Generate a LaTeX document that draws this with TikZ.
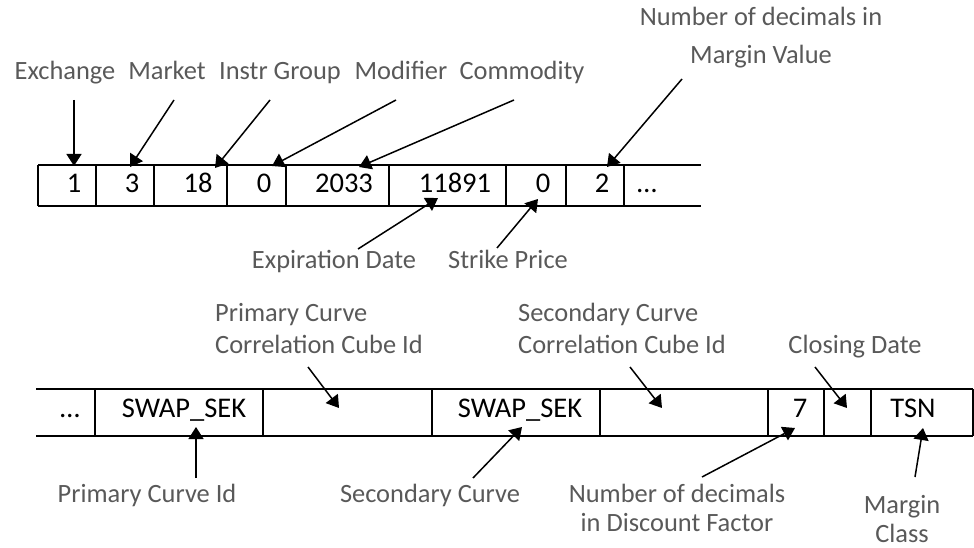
\documentclass[tikz,border=0pt]{standalone}
\usepackage{fontspec}
\setmainfont{Carlito}
\usetikzlibrary{arrows.meta}

\definecolor{labelgray}{HTML}{595959}

\tikzset{
  frame/.style={draw=black, line width=2pt, inner sep=0pt, outer sep=0pt},
  val/.style={inner sep=0pt, anchor=base, font=\fontsize{28.5}{32}\selectfont, text=black},
  lbl/.style={inner sep=0pt, anchor=base, font=\fontsize{26.4}{30}\selectfont, text=labelgray},
  pointer/.style={draw=black, line width=1.5pt, -{Triangle[length=12pt,width=15pt]}, shorten >=0pt},
}

\begin{document}
\begin{tikzpicture}[x=1pt,y=-1pt]
\useasboundingbox (0,0) rectangle (974,548);

% ---------- upper record ----------
\draw[line width=2pt] (38,165) -- (701,165);
\draw[line width=2pt] (38,206) -- (701,206);
\foreach \xx in {38,96,154,227,286,389,506,566,624}
  \draw[line width=2pt] (\xx,165) -- (\xx,206);

\node[val] (u1) at (74,193) {1};
\node[val] (u2) at (132,193) {3};
\node[val] (u3) at (198,193) {18};
\node[val] (u4) at (264,193) {0};
\node[val] (u5) at (344,193) {2033};
\node[val] (u6) at (455,193) {11891};
\node[val] (u7) at (543,193) {0};
\node[val] (u8) at (602,193) {2};
\node[val] (u9) at (647,193) {\dots};

% labels above the upper record
\node[lbl] (exch) at (65,80) {Exchange};
\node[lbl] (mkt)  at (167,80) {Market};
\node[lbl] (igrp) at (280,80) {Instr Group};
\node[lbl] (mod)  at (401,80) {Modifier};
\node[lbl] (comm) at (522,80) {Commodity};
\node[lbl] (ndmA) at (761,26) {Number of decimals in};
\node[lbl] (ndmB) at (761,64) {Margin Value};

% labels below the upper record
\node[lbl] (expd) at (334,268) {Expiration Date};
\node[lbl] (strk) at (508,268) {Strike Price};

% pointer ends
\coordinate (t1) at (74,100);   \coordinate (h1) at (74,166);
\coordinate (t2) at (174,100);  \coordinate (h2) at (130,167);
\coordinate (t3) at (270,100);  \coordinate (h3) at (215,168);
\coordinate (t4) at (396,100);  \coordinate (h4) at (272,166);
\coordinate (t5) at (514,100);  \coordinate (h5) at (359,167);
\coordinate (t6) at (682,79);   \coordinate (h6) at (607,167);
\coordinate (t7) at (358,249);  \coordinate (h7) at (438,198);
\coordinate (t8) at (497,248);  \coordinate (h8) at (538,199);

\foreach \i in {1,...,8} \draw[pointer] (t\i) -- (h\i);

% ---------- lower record ----------
\draw[line width=2pt] (36,389) -- (973,389);
\draw[line width=2pt] (36,436) -- (973,436);
\foreach \xx in {95,263,432,600,768,824,871,973}
  \draw[line width=2pt] (\xx,389) -- (\xx,436);

\node[val] (l1) at (70,417) {\dots};
\node[val] (l2) at (184,417) {SWAP\_SEK};
\node[val] (l4) at (520,417) {SWAP\_SEK};
\node[val] (l6) at (800,417) {7};
\node[val] (l8) at (913,417) {TSN};

% labels above the lower record
\node[lbl, anchor=base west] (pcA) at (215,321) {Primary Curve};
\node[lbl, anchor=base west] (pcB) at (215,353) {Correlation Cube Id};
\node[lbl, anchor=base west] (scA) at (518,321) {Secondary Curve};
\node[lbl, anchor=base west] (scB) at (518,353) {Correlation Cube Id};
\node[lbl] (clos) at (855,353) {Closing Date};

% labels below the lower record
\node[lbl] (pcid) at (147,502) {Primary Curve Id};
\node[lbl] (scrv) at (430,502) {Secondary Curve};
\node[lbl] (nddA) at (677,502) {Number of decimals};
\node[lbl] (nddB) at (677,531) {in Discount Factor};
\node[lbl] (mclA) at (902,513) {Margin};
\node[lbl] (mclB) at (902,542) {Class};

\coordinate (s1) at (308,367);  \coordinate (k1) at (339,408);
\coordinate (s2) at (630,367);  \coordinate (k2) at (662,408);
\coordinate (s3) at (815,367);  \coordinate (k3) at (847,408);
\coordinate (s4) at (196,478);  \coordinate (k4) at (196,427);
\coordinate (s5) at (473,478);  \coordinate (k5) at (522,427);
\coordinate (s6) at (702,477);  \coordinate (k6) at (795,428);
\coordinate (s7) at (915,477);  \coordinate (k7) at (923,428);

\foreach \i in {1,...,7} \draw[pointer] (s\i) -- (k\i);
\end{tikzpicture}
\end{document}
